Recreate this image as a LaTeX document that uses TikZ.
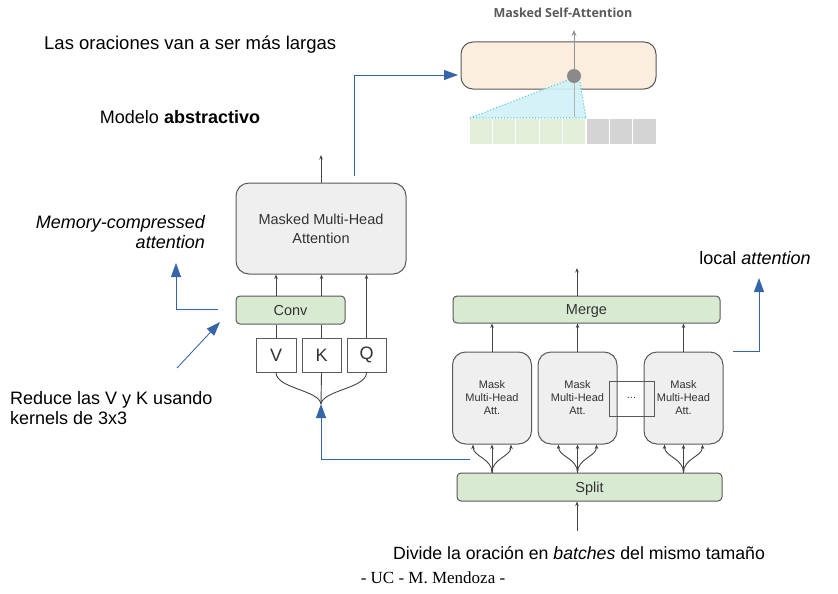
\documentclass[tikz,border=0pt]{standalone}
\usepackage{fontspec}
\setmainfont{Liberation Sans}
\newfontfamily\osans{Open Sans}
\newfontfamily\lserif{Liberation Serif}
\usetikzlibrary{arrows.meta,calc}
\definecolor{bluearr}{HTML}{3564A8}
\definecolor{boxline}{HTML}{595959}
\definecolor{boxgray}{HTML}{EFEFEF}
\definecolor{boxgreen}{HTML}{D9EAD3}
\definecolor{cellgreen}{HTML}{E3EFD9}
\definecolor{cellgray}{HTML}{D4D4D4}
\definecolor{peach}{HTML}{FCEEDF}
\definecolor{cyanfill}{HTML}{CFF1F6}
\definecolor{cyanline}{HTML}{5CC8DC}
\definecolor{txt}{HTML}{333333}
\definecolor{arrline}{HTML}{444444}
\begin{document}
\begin{tikzpicture}[x=1pt,y=-1pt,
  graybox/.style={draw=boxline, fill=boxgray, rounded corners=13pt, line width=1pt, text=txt, align=center, inner sep=0pt},
  greenbox/.style={draw=boxline, fill=boxgreen, rounded corners=4pt, line width=1pt, text=txt, inner sep=0pt, text depth=0pt, font=\fontsize{14.5}{16}\selectfont},
  letterbox/.style={draw=boxline, fill=white, line width=0.9pt, inner sep=0pt, minimum width=39pt, minimum height=34pt, font=\fontsize{18}{20}\selectfont, text=txt},
  smallarrow/.style={-{Stealth[length=4.5pt,width=3.5pt]}, draw=arrline, line width=0.9pt},
  plainline/.style={draw=arrline, line width=0.9pt},
  bluearrow/.style={-{Triangle[length=14pt,width=10pt]}, draw=bluearr, line width=0.85pt},
  annot/.style={font=\fontsize{18}{22}\selectfont, inner sep=0pt, text=black}
]
\useasboundingbox (0,0) rectangle (838,594);

% ---- Masked self-attention inset ----
\node[font=\osans\bfseries\fontsize{12.5}{14}\selectfont, text=boxline, inner sep=0pt] (msatitle) at (563,13) {Masked Self-Attention};
\node[draw=boxline, fill=peach, rounded corners=12pt, line width=1pt, minimum width=195pt, minimum height=47pt, inner sep=0pt] (peach) at (558.5,65.5) {};
\foreach \i in {0,...,4} {
  \node[fill=cellgreen, draw=white, line width=1.2pt, minimum width=23.4pt, minimum height=27pt, inner sep=0pt] (g\i) at ({469+11.7+23.4*\i},131.5) {};
}
\foreach \i in {0,...,2} {
  \node[fill=cellgray, draw=white, line width=1.2pt, minimum width=23.4pt, minimum height=27pt, inner sep=0pt] (k\i) at ({586+11.7+23.4*\i},131.5) {};
}
\coordinate (tl) at (470,118);
\coordinate (tr) at (586,118);
\coordinate (ta) at (568,80);
\coordinate (tb) at (580,82);
\fill[cyanfill, opacity=0.9] (tl) -- (ta) -- (tb) -- (tr) -- cycle;
\draw[cyanline, dotted, line width=1.1pt] (tl) -- (ta) (tb) -- (tr) (tl) -- (tr);
\coordinate (cdot) at (574,76);
\coordinate (ctop) at (574,30);
\coordinate (cbot) at (574,117);
\draw[draw=gray!60, line width=1pt] (cdot) -- (cbot);
\draw[-{Stealth[length=6pt,width=5pt]}, draw=gray!85, line width=1pt] (cdot) -- (ctop);
\node[circle, fill=gray!85!black!80, minimum size=14pt, inner sep=0pt] (dot) at (cdot) {};

% ---- left: memory-compressed attention ----
\node[graybox, minimum width=170pt, minimum height=91pt, font=\fontsize{14.5}{19}\selectfont] (Big) at (321,228.5) {Masked Multi-Head\\Attention};
\node[greenbox, minimum width=109pt, minimum height=28pt] (Conv) at (290.5,310) {Conv};
\node[letterbox, minimum width=40pt] (V) at (276,355) {V};
\node[letterbox] (K) at (321.5,355) {K};
\node[letterbox] (Q) at (366.5,355) {Q};
\coordinate (m) at (321,404);
\coordinate (btop) at (321,155);

\draw[plainline] (V.north) -- (V.north |- Conv.south);
\draw[smallarrow] (V.north |- Conv.north) -- (V.north |- Big.south);
\draw[plainline] (K.north) -- (K.north |- Conv.south);
\draw[smallarrow] (K.north |- Conv.north) -- (K.north |- Big.south);
\draw[smallarrow] (Q.north) -- (Q.north |- Big.south);
\draw[smallarrow] (Big.north) -- (btop);
\draw[plainline] (V.south) .. controls +(0,16) and +(-2,-14) .. (m);
\draw[plainline] (K.south) -- (m);
\draw[plainline] (Q.south) .. controls +(0,16) and +(2,-14) .. (m);

% ---- right: local attention ----
\node[greenbox, minimum width=267pt, minimum height=27pt] (Merge) at (586.5,309.5) {Merge};
\node[greenbox, minimum width=265pt, minimum height=28pt] (Split) at (589.5,487) {Split};
\node[graybox, minimum width=79pt, minimum height=92pt, font=\fontsize{11}{13}\selectfont] (h1) at (492,398) {Mask\\Multi-Head\\Att.};
\node[graybox, minimum width=79pt, minimum height=92pt, font=\fontsize{11}{13}\selectfont] (h2) at (577.5,398) {Mask\\Multi-Head\\Att.};
\node[graybox, minimum width=79pt, minimum height=92pt, font=\fontsize{11}{13}\selectfont] (h3) at (683.5,398) {Mask\\Multi-Head\\Att.};
\node[draw=boxline, line width=0.9pt, minimum width=45pt, minimum height=35pt, inner sep=0pt, text=txt, font=\fontsize{11}{13}\selectfont] (dots) at (631.5,398.5) {\raisebox{2pt}{...}};

\foreach \h in {h1,h2,h3} {
  \draw[smallarrow] (\h.north) -- (\h.north |- Merge.south);
  \coordinate (\h-s) at (Split.north -| \h.south);
  \draw[smallarrow] (\h-s) -- (\h.south);
  \draw[smallarrow] (\h-s) .. controls +(0,-14) and +(0,12) .. ($(\h.south)+(-19,0)$);
  \draw[smallarrow] (\h-s) .. controls +(0,-14) and +(0,12) .. ($(\h.south)+(19,0)$);
}
\coordinate (mtop) at (577,268);
\draw[smallarrow] (mtop |- Merge.north) -- (mtop);
\coordinate (sbot) at (577,531);
\draw[smallarrow] (sbot) -- (sbot |- Split.south);

% ---- blue connectors ----
\coordinate (bA) at (354,176);
\draw[bluearrow] (bA) |- (458,75);
\coordinate (bB) at (470,459);
\draw[bluearrow] (bB) -| (m);
\coordinate (bC) at (218,309);
\draw[bluearrow] (bC) -| (176,263);
\coordinate (bD) at (177,368);
\draw[bluearrow] (bD) -- (220,322);
\coordinate (bE) at (733,351);
\draw[bluearrow] (bE) -| (759,278);

% ---- annotations ----
\node[annot, anchor=west, font=\fontsize{18.5}{22}\selectfont] (t1) at (44,45) {Las oraciones van a ser más largas};
\node[annot] (t2) at (180,117) {Modelo \textbf{abstractivo}};
\node[annot, anchor=east, align=right, font=\itshape\fontsize{18}{20}\selectfont] (t3) at (205,232) {Memory-compressed\\attention};
\node[annot, anchor=west, align=left, font=\fontsize{18}{20}\selectfont] (t4) at (10,408) {Reduce las V y K usando\\kernels de 3x3};
\node[annot] (t5) at (755,258) {local \textit{attention}};
\node[annot, font=\fontsize{17.7}{22}\selectfont] (t6) at (579,553) {Divide la oración en \textit{batches} del mismo tamaño};
\node[font=\lserif\fontsize{17}{19}\selectfont, inner sep=0pt] (t7) at (433,578) {- UC - M. Mendoza -};
\end{tikzpicture}
\end{document}
